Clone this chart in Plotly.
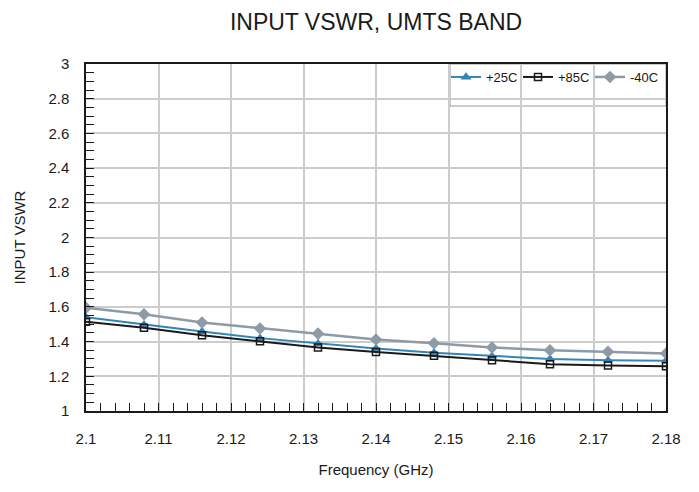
import plotly.graph_objects as go

freq = [2.100, 2.108, 2.116, 2.124, 2.132, 2.140, 2.148, 2.156, 2.164, 2.172, 2.180]
vswr_25c = [1.540, 1.497, 1.458, 1.420, 1.388, 1.360, 1.336, 1.316, 1.300, 1.292, 1.290]
vswr_85c = [1.515, 1.480, 1.437, 1.402, 1.366, 1.340, 1.318, 1.292, 1.270, 1.262, 1.258]
vswr_m40c = [1.595, 1.557, 1.510, 1.476, 1.446, 1.412, 1.390, 1.366, 1.350, 1.342, 1.332]

x_tick_vals = [2.10, 2.11, 2.12, 2.13, 2.14, 2.15, 2.16, 2.17, 2.18]
x_tick_text = ["2.1", "2.11", "2.12", "2.13", "2.14", "2.15", "2.16", "2.17", "2.18"]
y_tick_vals = [1.0, 1.2, 1.4, 1.6, 1.8, 2.0, 2.2, 2.4, 2.6, 2.8, 3.0]
y_tick_text = ["1", "1.2", "1.4", "1.6", "1.8", "2", "2.2", "2.4", "2.6", "2.8", "3"]

series = [
    ("+25C", vswr_25c, "#3385b6", "triangle-up", 7, 2),
    ("+85C", vswr_85c, "#1a1a1a", "square-open", 7, 2),
    ("-40C", vswr_m40c, "#8e9aa6", "diamond", 8, 2.5),
]

fig = go.Figure()
for name, vals, color, sym, size, lw in series:
    fig.add_trace(go.Scatter(
        x=freq, y=vals, name=name, mode="lines+markers",
        line=dict(color=color, width=lw),
        marker=dict(symbol=sym, size=size, color=color,
                    line=dict(color=color, width=1.5)),
    ))

font = "Liberation Sans, Arial, Helvetica, sans-serif"
# page body has an 8px margin, so figure coords = screen coords - 8
L, R, T, B = 78, 41, 56, 89
pw = 699 - L - R
ph = 492 - T - B

# legend frame (style only)
fig.add_shape(type="rect", xref="paper", yref="paper", layer="between",
              x0=(442 - L) / pw, x1=1, y0=(492 - B - 98) / ph, y1=1,
              fillcolor="white", line=dict(color="#9a9a9a", width=1))

fig.update_layout(
    width=699, height=492,
    margin=dict(l=L, r=R, t=T, b=B, autoexpand=False),
    paper_bgcolor="white", plot_bgcolor="white",
    font=dict(family=font, size=15, color="#1a1a1a"),
    title=dict(text="INPUT VSWR, UMTS BAND", x=(L + pw / 2) / 699, xanchor="center",
               y=1 - 6 / 492, yanchor="top", font=dict(size=23, color="#1a1a1a")),
    showlegend=True,
    legend=dict(orientation="h", x=(438 - L) / pw, xanchor="left", y=1 + 2 / ph, yanchor="top",
                bgcolor="rgba(0,0,0,0)", borderwidth=0,
                font=dict(size=13), itemwidth=30, entrywidth=27),
)
fig.update_xaxes(
    range=[2.1, 2.18], tickvals=x_tick_vals, ticktext=x_tick_text,
    showgrid=True, gridcolor="#cccccc", gridwidth=1.5,
    showline=True, linecolor="#1a1a1a", linewidth=1.5, mirror=True,
    ticks="inside", ticklen=8, tickcolor="#1a1a1a", tickwidth=1,
    ticklabelstandoff=13, tickfont=dict(size=15),
    minor=dict(dtick=0.002, tick0=2.1, ticks="inside", ticklen=8, tickcolor="#1a1a1a", showgrid=False),
    title=dict(text="Frequency (GHz)", font=dict(size=15), standoff=19),
    zeroline=False,
)
fig.update_yaxes(
    range=[1, 3], tickvals=y_tick_vals, ticktext=y_tick_text,
    showgrid=True, gridcolor="#cccccc", gridwidth=1.5,
    showline=True, linecolor="#1a1a1a", linewidth=1.5, mirror=True,
    ticks="inside", ticklen=8, tickcolor="#1a1a1a", tickwidth=1,
    ticklabelstandoff=12, tickfont=dict(size=15),
    minor=dict(dtick=0.05, tick0=1, ticks="inside", ticklen=8, tickcolor="#1a1a1a", showgrid=False),
    title=dict(text="INPUT VSWR", font=dict(size=15), standoff=19),
    zeroline=False,
)

fig.write_html("out.html")
